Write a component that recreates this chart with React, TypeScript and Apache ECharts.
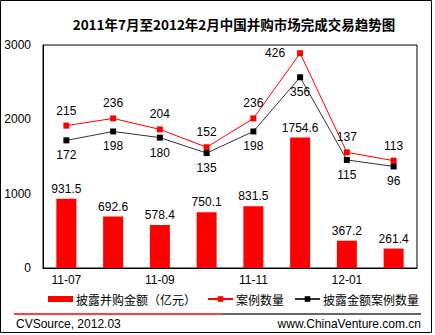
import React, { useEffect, useRef } from "react";
import * as echarts from "echarts";

const categories = ["11-07", "11-08", "11-09", "11-10", "11-11", "11-12", "12-01", "12-02"];
const dealAmount = [931.5, 692.6, 578.4, 750.1, 831.5, 1754.6, 367.2, 261.4];
const caseCount = [215, 236, 204, 152, 236, 426, 137, 113];
const disclosedCaseCount = [172, 198, 180, 135, 198, 356, 115, 96];
const leftTicks = [0, 1000, 2000, 3000];

const titleText = "2011年7月至2012年2月中国并购市场完成交易趋势图";
const nameAmount = "披露并购金额（亿元）";
const nameCases = "案例数量";
const nameDisclosed = "披露金额案例数量";

const FONT = "Arial, 'Liberation Sans', 'Noto Sans CJK SC', sans-serif";
const CJK = "'Noto Sans CJK SC', sans-serif";

export default function App() {
  const ref = useRef<HTMLDivElement>(null);
  useEffect(() => {
    if (!ref.current) return;
    const chart = echarts.init(ref.current, undefined, { renderer: "svg" });
    const option: any = {
      animation: false,
      backgroundColor: "#ffffff",
      textStyle: { fontFamily: FONT },
      grid: {
        left: 43,
        right: 18,
        top: 45,
        bottom: 67,
        show: true,
        borderColor: "#000",
        borderWidth: 1,
        backgroundColor: "transparent",
      },
      graphic: [
        {
          type: "rect",
          shape: { x: 0.5, y: 0.5, width: 431, height: 332 },
          style: { fill: "none", stroke: "#000", lineWidth: 1 },
          silent: true,
        },
        {
          type: "text",
          x: 234,
          y: 24,
          style: {
            text: titleText,
            font: `bold 13.5px ${CJK}`,
            fill: "#000",
            align: "center",
            verticalAlign: "middle",
          },
        },
        {
          type: "line",
          shape: { x1: 14, y1: 314, x2: 222, y2: 314 },
          style: { stroke: "#ff0000", lineWidth: 1.5 },
        },
        {
          type: "line",
          shape: { x1: 222, y1: 314, x2: 421, y2: 314 },
          style: { stroke: "#333333", lineWidth: 1.5 },
        },
        {
          type: "text",
          x: 16,
          y: 323.5,
          style: {
            text: "CVSource, 2012.03",
            font: `12px ${FONT}`,
            fill: "#000",
            align: "left",
            verticalAlign: "middle",
          },
        },
        {
          type: "text",
          x: 421,
          y: 323.5,
          style: {
            text: "www.ChinaVenture.com.cn",
            font: `12px ${FONT}`,
            fill: "#000",
            align: "right",
            verticalAlign: "middle",
          },
        },
      ],
      legend: [
        {
          data: [nameAmount],
          left: 48,
          top: 293,
          itemWidth: 25,
          itemHeight: 6,
          itemGap: 10,
          icon: "rect",
          textStyle: { fontFamily: CJK, fontSize: 12, color: "#000", padding: [0, 0, 0, -2] },
          padding: 0,
        },
        {
          data: [nameCases],
          left: 207,
          top: 293,
          itemWidth: 25,
          itemHeight: 7,
          textStyle: { fontFamily: CJK, fontSize: 12, color: "#000", padding: [0, 0, 0, -2] },
          padding: 0,
        },
        {
          data: [nameDisclosed],
          left: 294,
          top: 293,
          itemWidth: 25,
          itemHeight: 7,
          textStyle: { fontFamily: CJK, fontSize: 12, color: "#000", padding: [0, 0, 0, -2] },
          padding: 0,
        },
      ],
      xAxis: {
        type: "category",
        data: categories,
        axisLine: { lineStyle: { color: "#000", width: 1 } },
        axisTick: { show: false },
        axisLabel: { interval: 1, color: "#000", fontSize: 12, fontFamily: FONT, margin: 6 },
      },
      yAxis: [
        {
          type: "value",
          min: leftTicks[0],
          max: leftTicks[leftTicks.length - 1],
          interval: 1000,
          splitLine: { show: false },
          axisLine: { show: true, lineStyle: { color: "#000", width: 1 } },
          axisTick: { show: false },
          axisLabel: {
            color: "#000",
            fontSize: 12,
            fontFamily: FONT,
            margin: 12,
            formatter: (v: number) => String(v),
          },
        },
        {
          type: "value",
          min: -200,
          max: 450,
          show: false,
          splitLine: { show: false },
        },
      ],
      series: [
        {
          name: nameAmount,
          type: "bar",
          data: dealAmount,
          barWidth: 20,
          itemStyle: { color: "#ff0000" },
          label: {
            show: true,
            position: "top",
            distance: 4,
            color: "#000",
            fontSize: 12,
            fontFamily: FONT,
          },
        },
        {
          name: nameCases,
          type: "line",
          yAxisIndex: 1,
          data: caseCount.map((v, i) =>
            i === 5 ? { value: v, label: { position: "left", distance: 12 } } : v
          ),
          symbol: "rect",
          symbolSize: 6,
          itemStyle: { color: "#ff0000" },
          lineStyle: { color: "#ff0000", width: 1 },
          label: {
            show: true,
            position: "top",
            distance: 6,
            color: "#000",
            fontSize: 12,
            fontFamily: FONT,
          },
        },
        {
          name: nameDisclosed,
          type: "line",
          yAxisIndex: 1,
          data: disclosedCaseCount,
          symbol: "rect",
          symbolSize: 6,
          itemStyle: { color: "#000000" },
          lineStyle: { color: "#333333", width: 1 },
          label: {
            show: true,
            position: "bottom",
            distance: 6,
            color: "#000",
            fontSize: 12,
            fontFamily: FONT,
          },
        },
      ],
    };
    chart.setOption(option);
    return () => chart.dispose();
  }, []);
  return (
    <div
      ref={ref}
      style={{ position: "absolute", left: 0, top: 0, width: 435, height: 335, background: "#fff" }}
    />
  );
}
